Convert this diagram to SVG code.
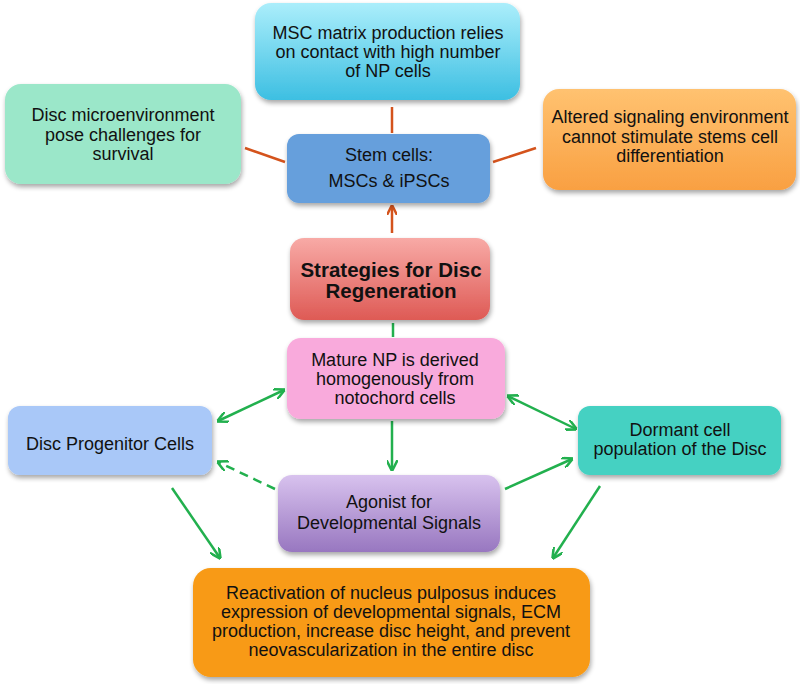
<svg xmlns="http://www.w3.org/2000/svg" width="800" height="684" viewBox="0 0 800 684">
<style>
text{font-family:"Liberation Sans",Arial,sans-serif;font-size:18px;fill:#111;text-anchor:middle}
.b{font-weight:bold;font-size:20.5px}
.or{stroke:#d4531c;stroke-width:2.5;fill:none}
.gr{stroke:#22b04e;stroke-width:2.5;fill:none}
</style>
<defs>
<filter id="sh" x="-10%" y="-10%" width="125%" height="135%">
<feGaussianBlur in="SourceAlpha" stdDeviation="2.5"/>
<feOffset dx="1" dy="3" result="o"/>
<feComponentTransfer><feFuncA type="linear" slope="0.35"/></feComponentTransfer>
<feMerge><feMergeNode/><feMergeNode in="SourceGraphic"/></feMerge>
</filter>
<linearGradient id="gCyan" x1="0" y1="0" x2="0" y2="1"><stop offset="0" stop-color="#abeefb"/><stop offset="1" stop-color="#3dbfe2"/></linearGradient>
<linearGradient id="gOr" x1="0" y1="0" x2="0" y2="1"><stop offset="0" stop-color="#ffc270"/><stop offset="1" stop-color="#f9a042"/></linearGradient>
<linearGradient id="gRed" x1="0" y1="0" x2="0" y2="1"><stop offset="0" stop-color="#f8aaa6"/><stop offset="1" stop-color="#de5a55"/></linearGradient>
<linearGradient id="gPur" x1="0" y1="0" x2="0" y2="1"><stop offset="0" stop-color="#d8c2ee"/><stop offset="1" stop-color="#9877c0"/></linearGradient>
<marker id="ao" viewBox="0 0 10 10" refX="9" refY="5" markerWidth="4" markerHeight="4" orient="auto-start-reverse"><path d="M0,0 L10,5 L0,10" fill="none" stroke="#d4531c" stroke-width="2.5"/></marker>
<marker id="ag" viewBox="0 0 10 10" refX="9" refY="5" markerWidth="4.4" markerHeight="4.4" orient="auto-start-reverse"><path d="M0,0 L10,5 L0,10" fill="none" stroke="#22b04e" stroke-width="2.3"/></marker>
</defs>
<g id="connectors">
<line class="or" x1="392" y1="107" x2="392" y2="133"/>
<line class="or" x1="245" y1="148" x2="285" y2="162"/>
<line class="or" x1="493" y1="162" x2="536" y2="148"/>
<line class="or" x1="392" y1="233" x2="392" y2="206" marker-end="url(#ao)"/>
<line class="gr" x1="393" y1="323" x2="393" y2="337"/>
<line class="gr" x1="284" y1="390" x2="218" y2="421" marker-start="url(#ag)" marker-end="url(#ag)"/>
<line class="gr" x1="508" y1="396" x2="576" y2="429" marker-start="url(#ag)" marker-end="url(#ag)"/>
<line class="gr" x1="392" y1="421" x2="392" y2="470" marker-end="url(#ag)"/>
<line class="gr" x1="275" y1="489" x2="218" y2="462" stroke-dasharray="9,6" marker-end="url(#ag)"/>
<line class="gr" x1="505" y1="489" x2="572" y2="459" marker-end="url(#ag)"/>
<line class="gr" x1="172" y1="488" x2="220" y2="558" marker-end="url(#ag)"/>
<line class="gr" x1="600" y1="486" x2="553" y2="558" marker-end="url(#ag)"/>
</g>
<g id="msc">
<rect x="255" y="3" width="265" height="97" rx="16" fill="url(#gCyan)" filter="url(#sh)"/>
<text x="388" y="39">MSC matrix production relies</text>
<text x="388" y="58">on contact with high number</text>
<text x="388" y="77">of NP cells</text>
</g>
<g id="micro">
<rect x="5" y="84" width="236" height="100" rx="16" fill="#9be7c9" filter="url(#sh)"/>
<text x="123" y="121">Disc microenvironment</text>
<text x="123" y="141">pose challenges for</text>
<text x="123" y="160">survival</text>
</g>
<g id="altered">
<rect x="543" y="89" width="253" height="101" rx="16" fill="url(#gOr)" filter="url(#sh)"/>
<text x="670" y="123">Altered signaling environment</text>
<text x="670" y="143">cannot stimulate stems cell</text>
<text x="670" y="162">differentiation</text>
</g>
<g id="stem">
<rect x="287" y="134" width="203" height="69" rx="12" fill="#669fdc" filter="url(#sh)"/>
<text x="389" y="161">Stem cells:</text>
<text x="389" y="187">MSCs &amp; iPSCs</text>
</g>
<g id="strategies">
<rect x="290" y="238" width="200" height="82" rx="14" fill="url(#gRed)" filter="url(#sh)"/>
<text class="b" x="391" y="277">Strategies for Disc</text>
<text class="b" x="391" y="298">Regeneration</text>
</g>
<g id="mature">
<rect x="287" y="338" width="218" height="81" rx="14" fill="#f9aadc" filter="url(#sh)"/>
<text x="395" y="366">Mature NP is derived</text>
<text x="395" y="385">homogenously from</text>
<text x="395" y="404">notochord cells</text>
</g>
<g id="progenitor">
<rect x="8" y="406" width="204" height="69" rx="12" fill="#a9c8f8" filter="url(#sh)"/>
<text x="110" y="450">Disc Progenitor Cells</text>
</g>
<g id="dormant">
<rect x="578" y="406" width="203" height="69" rx="12" fill="#44d1c2" filter="url(#sh)"/>
<text x="680" y="436">Dormant cell</text>
<text x="680" y="455">population of the Disc</text>
</g>
<g id="agonist">
<rect x="278" y="475" width="222" height="77" rx="14" fill="url(#gPur)" filter="url(#sh)"/>
<text x="389" y="508">Agonist for</text>
<text x="389" y="529">Developmental Signals</text>
</g>
<g id="reactivation">
<rect x="193" y="568" width="397" height="109" rx="18" fill="#f89a12" filter="url(#sh)"/>
<text x="391" y="599">Reactivation of nucleus pulposus induces</text>
<text x="391" y="618">expression of developmental signals, ECM</text>
<text x="391" y="637">production, increase disc height, and prevent</text>
<text x="391" y="656">neovascularization in the entire disc</text>
</g>
</svg>
